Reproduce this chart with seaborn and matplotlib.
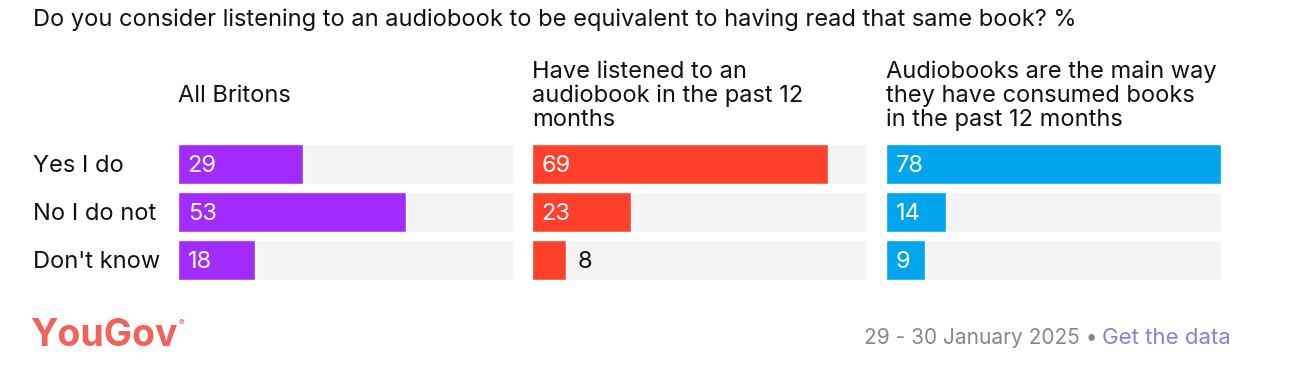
import numpy as np
import pandas as pd
import matplotlib
matplotlib.use("Agg")
import matplotlib.pyplot as plt
import seaborn as sns

## Dados do gráfico
respostas = ["Yes I do", "No I do not", "Don't know"]
grupos = ["All Britons",
          "Have listened to an\naudiobook in the past 12\nmonths",
          "Audiobooks are the main way\nthey have consumed books\nin the past 12 months"]
valores_todos = [29, 53, 18]
valores_ouviram = [69, 23, 8]
valores_principal = [78, 14, 9]
cores = ["#A22BFF", "#FF412C", "#00A5EC"]

titulo = "Do you consider listening to an audiobook to be equivalent to having read that same book? %"
data_txt = "29 - 30 January 2025"

sns.set_theme(style="white")
plt.rcParams["font.family"] = ["Inter", "DejaVu Sans"]

W, H = 1290, 384
fig = plt.figure(figsize=(W / 100, H / 100), dpi=100)
fs = 17

fig.text(33 / W, 1 - 20 / H, titulo, fontsize=fs, color="#111111", va="center", ha="left")

series = [valores_todos, valores_ouviram, valores_principal]
lefts = [178, 532, 886]
largura = 335
maximo = max(max(s) for s in series)

for i, (vals, cor, grupo) in enumerate(zip(series, cores, grupos)):
    ax = fig.add_axes([lefts[i] / W, 1 - 284 / H, largura / W, 144 / H])
    df = pd.DataFrame({"resposta": respostas, "valor": vals, "fundo": [maximo] * len(vals)})
    sns.barplot(data=df, x="fundo", y="resposta", color="#F4F4F4", width=0.833, ax=ax, saturation=1)
    sns.barplot(data=df, x="valor", y="resposta", color=cor, width=0.833, ax=ax, saturation=1)
    ax.set_xlim(0, maximo)
    ax.set_ylim(len(vals) - 0.5, -0.5)
    ax.set_xlabel("")
    ax.set_ylabel("")
    ax.set_xticks([])
    ax.set_yticks([])
    for s in ax.spines.values():
        s.set_visible(False)
    if i == 0:
        # rótulos das respostas à esquerda
        for j, r in enumerate(respostas):
            ax.annotate(r, ((33 - lefts[0]) / largura, j), xycoords=ax.get_yaxis_transform(),
                        xytext=(0, -1.5), textcoords="offset points",
                        va="center", ha="left", fontsize=fs, color="#111111")
    for j, v in enumerate(vals):
        if v < 9:
            ax.annotate(str(v), (v, j), xytext=(8, -1.5), textcoords="offset points",
                        va="center", ha="left", fontsize=fs, color="#111111")
        else:
            ax.annotate(str(v), (0, j), xytext=(7, -1.5), textcoords="offset points",
                        va="center", ha="left", fontsize=fs, color="white")
    fig.text(lefts[i] / W, 1 - 96 / H, grupo, ha="left", va="center",
             fontsize=fs, color="#111111", linespacing=1.1)

## Rodapé
fig.text(30 / W, 1 - 336 / H, "YouGov", fontsize=27, fontweight="bold", color="#F0625A",
         va="center", ha="left")
fig.text(179 / W, 1 - 323 / H, "\u00ae", fontsize=6, color="#F0625A", va="center", ha="left")
fig.text(1231 / W, 1 - 338 / H, "Get the data", fontsize=16, color="#8C7FD9", va="center", ha="right")
fig.text(1098 / W, 1 - 338 / H, data_txt + " \u2022", fontsize=15, color="#888888", va="center", ha="right")

fig.savefig("out.png", dpi=100)
